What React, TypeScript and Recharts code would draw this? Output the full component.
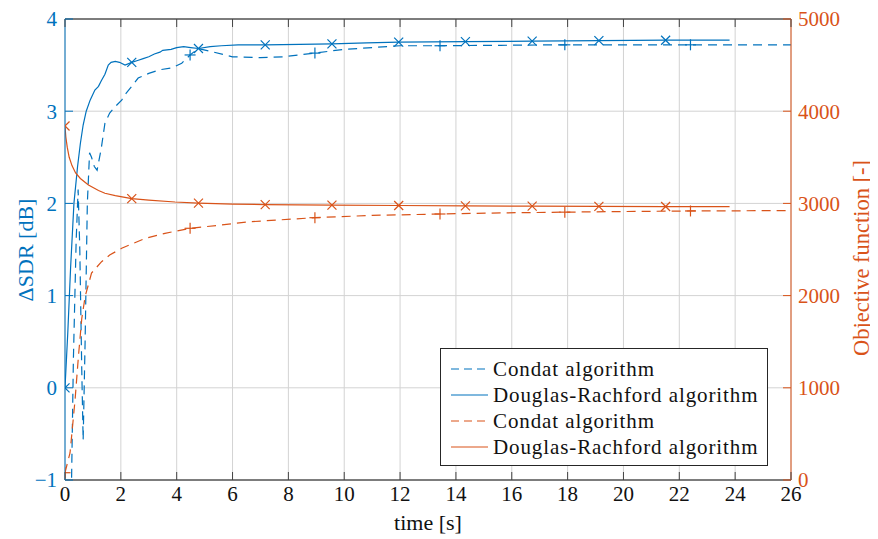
import React from 'react';
import { ComposedChart, Line, XAxis, YAxis, CartesianGrid, ReferenceLine } from 'recharts';

const BLUE = '#0072BD';
const ORANGE = '#D95319';
const FONT = '"Liberation Serif", "DejaVu Serif", serif';

const xTicks = [0, 2, 4, 6, 8, 10, 12, 14, 16, 18, 20, 22, 24, 26];
const sdrTicks = [-1, 0, 1, 2, 3, 4];
const objTicks = [0, 1000, 2000, 3000, 4000, 5000];

// Douglas-Rachford, ΔSDR [dB]
const drSdrT = [0, 0.1, 0.2, 0.32, 0.45, 0.55, 0.65, 0.76, 0.9, 1.07, 1.2, 1.3, 1.43, 1.55, 1.65, 1.8, 1.95, 2.15, 2.39, 2.6, 2.8, 3.0, 3.2, 3.4, 3.5, 3.8, 4.0, 4.25, 4.5, 4.78, 5.2, 5.6, 6.2, 7.17, 8.4, 9.56, 10.8, 11.95, 14.34, 16.73, 19.12, 21.51, 23.8];
const drSdrV = [0, 0.6, 1.3, 2.0, 2.4, 2.65, 2.85, 3.0, 3.12, 3.23, 3.27, 3.33, 3.4, 3.5, 3.53, 3.54, 3.53, 3.5, 3.53, 3.55, 3.57, 3.59, 3.62, 3.64, 3.66, 3.67, 3.69, 3.7, 3.69, 3.68, 3.7, 3.71, 3.72, 3.72, 3.725, 3.73, 3.74, 3.75, 3.755, 3.76, 3.765, 3.77, 3.77];
const drSdrMarks = [0, 2.39, 4.78, 7.17, 9.56, 11.95, 14.34, 16.73, 19.12, 21.51];

// Condat, ΔSDR [dB]
const cdSdrT = [0.22, 0.3, 0.4, 0.47, 0.53, 0.6, 0.65, 0.72, 0.8, 0.88, 0.95, 1.05, 1.15, 1.3, 1.43, 1.6, 1.8, 2.03, 2.2, 2.39, 2.62, 3.0, 3.4, 3.82, 4.18, 4.48, 4.77, 5.2, 6.0, 7.0, 7.8, 8.95, 9.96, 11.0, 12.0, 13.43, 15.6, 17.9, 20.0, 22.4, 26.0];
const cdSdrV = [-1.3, 0.3, 1.6, 2.15, 1.5, 0.2, -0.57, 0.5, 2.0, 2.55, 2.5, 2.4, 2.36, 2.6, 2.87, 2.98, 3.05, 3.12, 3.2, 3.27, 3.36, 3.41, 3.45, 3.47, 3.52, 3.61, 3.68, 3.65, 3.59, 3.58, 3.59, 3.63, 3.67, 3.69, 3.71, 3.71, 3.715, 3.72, 3.72, 3.72, 3.72];
const cdSdrMarks = [4.48, 8.95, 13.43, 17.9, 22.4];

// Douglas-Rachford, objective function
const drObjT = [0, 0.03, 0.08, 0.15, 0.25, 0.38, 0.55, 0.84, 1.2, 1.43, 1.8, 2.39, 3.0, 3.94, 4.78, 6.0, 7.17, 9.56, 11.95, 14.34, 16.73, 19.12, 21.51, 23.8];
const drObjV = [3840, 3720, 3610, 3500, 3410, 3330, 3270, 3200, 3140, 3110, 3085, 3052, 3035, 3015, 3003, 2993, 2987, 2981, 2977, 2973, 2970, 2968, 2966, 2965];
const drObjMarks = [0, 2.39, 4.78, 7.17, 9.56, 11.95, 14.34, 16.73, 19.12, 21.51];

// Condat, objective function
const cdObjT = [0, 0.1, 0.18, 0.36, 0.48, 0.6, 0.72, 0.95, 1.31, 1.6, 2.03, 2.87, 3.58, 4.48, 5.6, 6.57, 8.95, 11.0, 13.43, 15.6, 17.9, 20.0, 22.4, 26.0];
const cdObjV = [79, 200, 293, 868, 1337, 1750, 1988, 2245, 2368, 2440, 2513, 2621, 2675, 2730, 2766, 2800, 2845, 2870, 2885, 2897, 2905, 2912, 2918, 2922];
const cdObjMarks = [0, 4.48, 8.95, 13.43, 17.9, 22.4];

const zip = (ts: number[], vs: number[], marks: number[]) =>
  ts.map((t, i) => ({ t, v: vs[i], m: marks.includes(t) }));

const drSdr = zip(drSdrT, drSdrV, drSdrMarks);
const cdSdr = zip(cdSdrT, cdSdrV, cdSdrMarks);
const drObj = zip(drObjT, drObjV, drObjMarks);
const cdObj = zip(cdObjT, cdObjV, cdObjMarks);

const W = 870;
const H = 531;
const M_TOP = 11;
const LEFT_W = 57;
const RIGHT_W = 87;
const X_H = 59;
const FS = 21;
const TICK = 8;

const makeDot = (kind: 'x' | '+', color: string) => (props: any) => {
  const { cx, cy, payload, index } = props;
  if (!payload || !payload.m || cx == null || cy == null) return <g key={`e${index}`} />;
  const s = 4.5;
  if (kind === 'x') {
    return (
      <g key={`d${index}`} stroke={color} strokeWidth={1.2}>
        <line x1={cx - s} y1={cy - s} x2={cx + s} y2={cy + s} />
        <line x1={cx - s} y1={cy + s} x2={cx + s} y2={cy - s} />
      </g>
    );
  }
  const p = 5.5;
  return (
    <g key={`d${index}`} stroke={color} strokeWidth={1.2}>
      <line x1={cx - p} y1={cy} x2={cx + p} y2={cy} />
      <line x1={cx} y1={cy - p} x2={cx} y2={cy + p} />
    </g>
  );
};

const XTick = (props: any) => {
  const { x, y, payload } = props;
  const axisY = y - 6;
  return (
    <g>
      <line x1={x} x2={x} y1={axisY} y2={axisY - TICK} stroke="#444" strokeWidth={1} />
      <line x1={x} x2={x} y1={M_TOP} y2={M_TOP + TICK} stroke="#444" strokeWidth={1} />
      <text x={x} y={y} dy="0.71em" textAnchor="middle" fill="#111" fontSize={FS} fontFamily={FONT}>
        {payload.value}
      </text>
    </g>
  );
};

const LeftTick = (props: any) => {
  const { x, y, payload } = props;
  const axisX = x + 8;
  const label = payload.value < 0 ? `\u2212${Math.abs(payload.value)}` : `${payload.value}`;
  return (
    <g>
      <line x1={axisX} x2={axisX + TICK} y1={y} y2={y} stroke={BLUE} strokeWidth={1} />
      <text x={x} y={y} dy="0.35em" textAnchor="end" fill={BLUE} fontSize={FS} fontFamily={FONT}>
        {label}
      </text>
    </g>
  );
};

const RightTick = (props: any) => {
  const { x, y, payload } = props;
  const axisX = x - 7;
  return (
    <g>
      <line x1={axisX} x2={axisX - TICK} y1={y} y2={y} stroke={ORANGE} strokeWidth={1} />
      <text x={x} y={y} dy="0.35em" textAnchor="start" fill={ORANGE} fontSize={FS} fontFamily={FONT}>
        {payload.value}
      </text>
    </g>
  );
};

const legendItems = [
  { label: 'Condat algorithm', color: BLUE, dash: '8 5' },
  { label: 'Douglas-Rachford algorithm', color: BLUE, dash: undefined },
  { label: 'Condat algorithm', color: ORANGE, dash: '8 5' },
  { label: 'Douglas-Rachford algorithm', color: ORANGE, dash: undefined },
];

const objTitle = 'Objective function [-]';
const sdrTitle = 'ΔSDR [dB]';
const timeTitle = 'time [s]';

export default function App() {
  return (
    <div style={{ position: 'relative', width: W, height: H, fontFamily: FONT }}>
      <ComposedChart width={W} height={H} margin={{ top: M_TOP, right: 0, bottom: 0, left: 0 }}>
        <CartesianGrid xAxisId="x" yAxisId="left" stroke="#d3d3d3" strokeWidth={1} />
        <XAxis
          xAxisId="x"
          type="number"
          dataKey="t"
          domain={[0, 26]}
          ticks={xTicks}
          allowDataOverflow
          height={X_H}
          stroke="#111"
          tickLine={false}
          tickSize={0}
          tickMargin={6}
          tick={<XTick />}
        />
        <YAxis
          yAxisId="left"
          orientation="left"
          type="number"
          domain={[-1, 4]}
          ticks={sdrTicks}
          allowDataOverflow
          width={LEFT_W}
          stroke={BLUE}
          tickLine={false}
          tickSize={0}
          tickMargin={8}
          tick={<LeftTick />}
        />
        <YAxis
          yAxisId="right"
          orientation="right"
          type="number"
          domain={[0, 5000]}
          ticks={objTicks}
          allowDataOverflow
          width={RIGHT_W}
          stroke={ORANGE}
          tickLine={false}
          tickSize={0}
          tickMargin={7}
          tick={<RightTick />}
        />
        <ReferenceLine xAxisId="x" yAxisId="left" y={4} stroke="#111" strokeWidth={1} />
        <Line
          data={cdSdr}
          xAxisId="x"
          yAxisId="left"
          dataKey="v"
          type="linear"
          stroke={BLUE}
          strokeWidth={1.2}
          strokeDasharray="9 6"
          dot={makeDot('+', BLUE)}
          activeDot={false}
          isAnimationActive={false}
        />
        <Line
          data={drSdr}
          xAxisId="x"
          yAxisId="left"
          dataKey="v"
          type="linear"
          stroke={BLUE}
          strokeWidth={1.2}
          dot={makeDot('x', BLUE)}
          activeDot={false}
          isAnimationActive={false}
        />
        <Line
          data={cdObj}
          xAxisId="x"
          yAxisId="right"
          dataKey="v"
          type="linear"
          stroke={ORANGE}
          strokeWidth={1.2}
          strokeDasharray="9 6"
          dot={makeDot('+', ORANGE)}
          activeDot={false}
          isAnimationActive={false}
        />
        <Line
          data={drObj}
          xAxisId="x"
          yAxisId="right"
          dataKey="v"
          type="linear"
          stroke={ORANGE}
          strokeWidth={1.2}
          dot={makeDot('x', ORANGE)}
          activeDot={false}
          isAnimationActive={false}
        />
      </ComposedChart>

      <svg
        width={W}
        height={H}
        style={{ position: 'absolute', left: 0, top: 0, pointerEvents: 'none', overflow: 'visible' }}
      >
        <g transform="translate(420 514)">
          <text x={0} y={0} dy="0.35em" textAnchor="middle" fontSize={22} fontFamily={FONT} fill="#111">
            {timeTitle}
          </text>
        </g>
        <g transform="translate(17 242) rotate(-90)">
          <text x={0} y={0} dy="0.35em" textAnchor="middle" fontSize={22} fontFamily={FONT} fill={BLUE}>
            {sdrTitle}
          </text>
        </g>
        <g transform="translate(853 250) rotate(-90)">
          <text x={0} y={0} dy="0.35em" textAnchor="middle" fontSize={22.5} fontFamily={FONT} fill={ORANGE}>
            {objTitle}
          </text>
        </g>
      </svg>

      <div
        style={{
          position: 'absolute',
          left: 432,
          top: 340,
          width: 328,
          height: 118,
          border: '1px solid #262626',
          background: '#fff',
          paddingTop: 7,
          boxSizing: 'border-box',
        }}
      >
        {legendItems.map((it, i) => (
          <div key={i} style={{ display: 'flex', alignItems: 'center', height: 26 }}>
            <svg width={52} height={26} style={{ flex: 'none' }}>
              <line x1={10} x2={47} y1={13} y2={13} stroke={it.color} strokeWidth={1.2} strokeDasharray={it.dash} />
            </svg>
            <span style={{ fontSize: FS, color: '#111', letterSpacing: 0.9, whiteSpace: 'nowrap', lineHeight: '26px' }}>
              {it.label}
            </span>
          </div>
        ))}
      </div>
    </div>
  );
}
